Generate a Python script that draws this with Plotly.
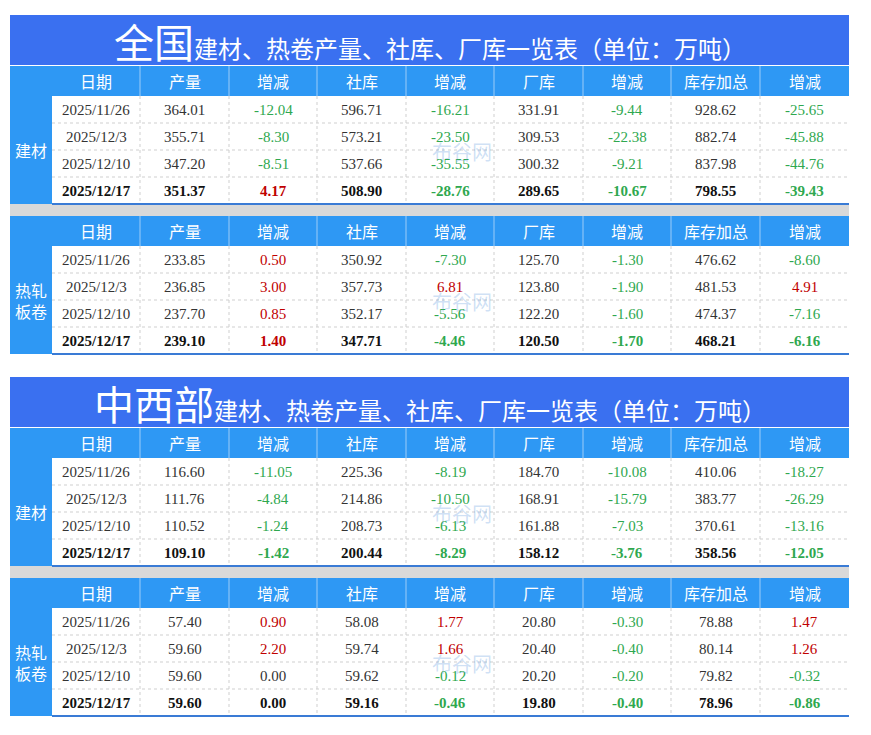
import plotly.graph_objects as go

dates = ["2025/11/26", "2025/12/3", "2025/12/10", "2025/12/17"]
headers = ["日期", "产量", "增减", "社库", "增减", "厂库", "增减", "库存加总", "增减"]

# 全国 建材
nat_rb_prod = [364.01, 355.71, 347.20, 351.37]
nat_rb_prod_chg = [-12.04, -8.30, -8.51, 4.17]
nat_rb_soc = [596.71, 573.21, 537.66, 508.90]
nat_rb_soc_chg = [-16.21, -23.50, -35.55, -28.76]
nat_rb_fac = [331.91, 309.53, 300.32, 289.65]
nat_rb_fac_chg = [-9.44, -22.38, -9.21, -10.67]
nat_rb_tot = [928.62, 882.74, 837.98, 798.55]
nat_rb_tot_chg = [-25.65, -45.88, -44.76, -39.43]
# 全国 热轧板卷
nat_hc_prod = [233.85, 236.85, 237.70, 239.10]
nat_hc_prod_chg = [0.50, 3.00, 0.85, 1.40]
nat_hc_soc = [350.92, 357.73, 352.17, 347.71]
nat_hc_soc_chg = [-7.30, 6.81, -5.56, -4.46]
nat_hc_fac = [125.70, 123.80, 122.20, 120.50]
nat_hc_fac_chg = [-1.30, -1.90, -1.60, -1.70]
nat_hc_tot = [476.62, 481.53, 474.37, 468.21]
nat_hc_tot_chg = [-8.60, 4.91, -7.16, -6.16]
# 中西部 建材
cw_rb_prod = [116.60, 111.76, 110.52, 109.10]
cw_rb_prod_chg = [-11.05, -4.84, -1.24, -1.42]
cw_rb_soc = [225.36, 214.86, 208.73, 200.44]
cw_rb_soc_chg = [-8.19, -10.50, -6.13, -8.29]
cw_rb_fac = [184.70, 168.91, 161.88, 158.12]
cw_rb_fac_chg = [-10.08, -15.79, -7.03, -3.76]
cw_rb_tot = [410.06, 383.77, 370.61, 358.56]
cw_rb_tot_chg = [-18.27, -26.29, -13.16, -12.05]
# 中西部 热轧板卷
cw_hc_prod = [57.40, 59.60, 59.60, 59.60]
cw_hc_prod_chg = [0.90, 2.20, 0.00, 0.00]
cw_hc_soc = [58.08, 59.74, 59.62, 59.16]
cw_hc_soc_chg = [1.77, 1.66, -0.12, -0.46]
cw_hc_fac = [20.80, 20.40, 20.20, 19.80]
cw_hc_fac_chg = [-0.30, -0.40, -0.20, -0.40]
cw_hc_tot = [78.88, 80.14, 79.82, 78.96]
cw_hc_tot_chg = [1.47, 1.26, -0.32, -0.86]

TITLE_BG = "#3A70F0"
HEAD_BG = "#2E98F4"
GRAY = "#D9D9D9"
RED = "#C00000"
GREEN = "#2FA84F"
CN = "SimSun, 'Noto Sans CJK SC'"
NUM = "SimSun, 'Liberation Serif', serif"

colx = [52, 140, 229, 317, 406, 494, 583, 671, 760, 849]
L, R = 10, 849

shapes, ann = [], []

def rect(x0, y0, x1, y1, color):
    shapes.append(dict(type="rect", xref="x", yref="y", x0=x0, y0=y0, x1=x1, y1=y1,
                       fillcolor=color, line=dict(width=0), layer="below"))

def text(x, y, s, size=15, color="#222", family=NUM, bold=False):
    if bold:
        s = "<b>" + s + "</b>"
    ann.append(dict(x=x, y=y, xref="x", yref="y", text=s, showarrow=False,
                    font=dict(size=size, color=color, family=family), xanchor="center", yanchor="middle"))

def table(y0, label, cols):
    rect(L, y0, R, y0 + 30, HEAD_BG)
    for i, h in enumerate(headers):
        text((colx[i] + colx[i + 1]) / 2, y0 + 15, h, size=16, color="white", family=CN)
    for x in colx[1:-1]:
        shapes.append(dict(type="line", x0=x, x1=x, y0=y0, y1=y0 + 30, line=dict(color="#9CCCF8", width=1)))
    rect(L, y0 + 30, colx[0], y0 + 138, HEAD_BG)
    text((L + colx[0]) / 2, y0 + 84, label, size=16, color="white", family=CN)
    rect(colx[0], y0 + 30, R, y0 + 138, "white")
    for r in range(4):
        yc = y0 + 30 + 27 * r + 13.5
        bold = r == 3
        text((colx[0] + colx[1]) / 2, yc, dates[r], bold=bold, color="#111" if bold else "#333")
        for c, arr in enumerate(cols):
            v = arr[r]
            if c % 2 == 1:
                color = RED if v > 0 else (GREEN if v < 0 else ("#111" if bold else "#333"))
            else:
                color = "#111" if bold else "#333"
            text((colx[c + 1] + colx[c + 2]) / 2, yc, f"{v:.2f}", bold=bold, color=color)
        if r > 0:
            shapes.append(dict(type="line", x0=colx[0], x1=R, y0=y0 + 30 + 27 * r, y1=y0 + 30 + 27 * r,
                               line=dict(color="#CFCFCF", width=1, dash="dot")))
    for x in colx[1:-1]:
        shapes.append(dict(type="line", x0=x, x1=x, y0=y0 + 30, y1=y0 + 138,
                           line=dict(color="#CFCFCF", width=1, dash="dot")))
    shapes.append(dict(type="line", x0=colx[0], x1=R, y0=y0 + 138, y1=y0 + 138,
                       line=dict(color="#3A7BD5", width=2)))

def block(y0, big, rb, hc):
    rect(L, y0, R, y0 + 50, TITLE_BG)
    ann.append(dict(x=430, y=y0 + 26, xref="x", yref="y", showarrow=False,
                    text=f"<span style='font-size:40px'>{big}</span>建材、热卷产量、社库、厂库一览表（单位：万吨）",
                    font=dict(size=24, color="white", family=CN), xanchor="center", yanchor="middle"))
    table(y0 + 51, "建材", rb)
    rect(L, y0 + 189, R, y0 + 201, GRAY)
    table(y0 + 201, "热轧<br>板卷", hc)
    for wy in (y0 + 136, y0 + 286):
        ann.append(dict(x=462, y=wy, xref="x", yref="y", showarrow=False, text="布谷网",
                        font=dict(size=20, color="rgba(90,150,220,0.3)", family=CN)))

block(15, "全国",
      [nat_rb_prod, nat_rb_prod_chg, nat_rb_soc, nat_rb_soc_chg, nat_rb_fac, nat_rb_fac_chg, nat_rb_tot, nat_rb_tot_chg],
      [nat_hc_prod, nat_hc_prod_chg, nat_hc_soc, nat_hc_soc_chg, nat_hc_fac, nat_hc_fac_chg, nat_hc_tot, nat_hc_tot_chg])
block(377, "中西部",
      [cw_rb_prod, cw_rb_prod_chg, cw_rb_soc, cw_rb_soc_chg, cw_rb_fac, cw_rb_fac_chg, cw_rb_tot, cw_rb_tot_chg],
      [cw_hc_prod, cw_hc_prod_chg, cw_hc_soc, cw_hc_soc_chg, cw_hc_fac, cw_hc_fac_chg, cw_hc_tot, cw_hc_tot_chg])

fig = go.Figure()
fig.update_layout(width=871, height=735, margin=dict(l=0, r=0, t=0, b=0),
                  paper_bgcolor="white", plot_bgcolor="white",
                  xaxis=dict(range=[8, 879], visible=False, fixedrange=True),
                  yaxis=dict(range=[743, 8], visible=False, fixedrange=True),
                  shapes=shapes, annotations=ann, showlegend=False)
fig.write_html("out.html")
